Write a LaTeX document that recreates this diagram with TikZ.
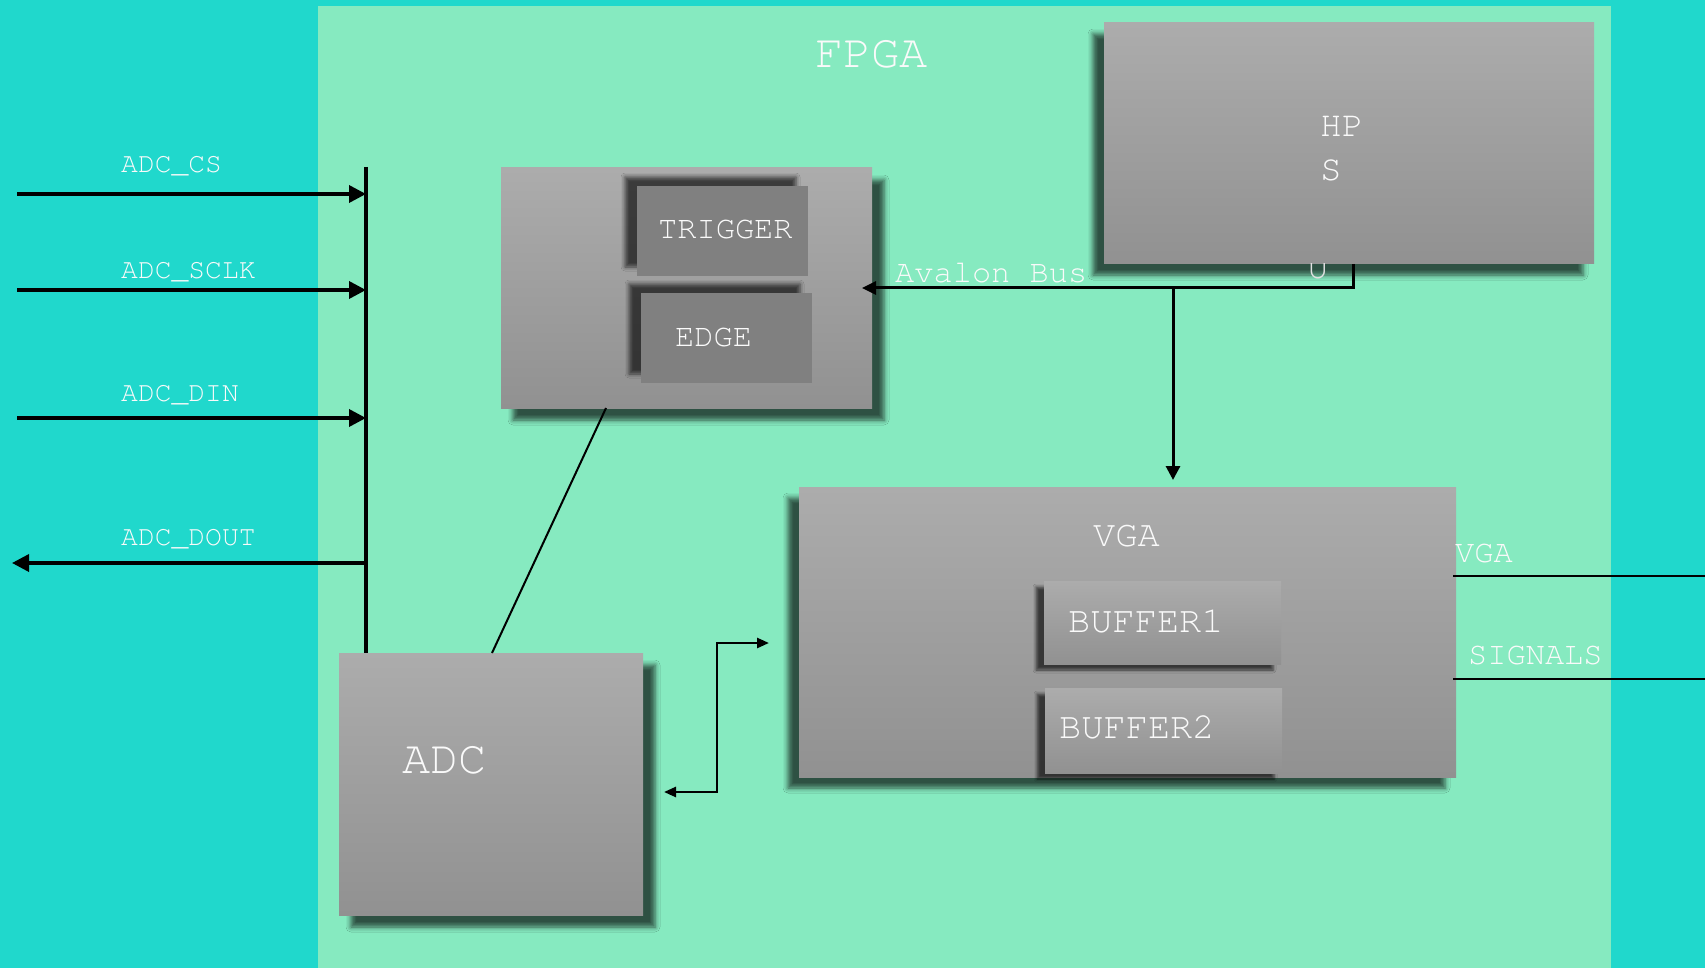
\documentclass[tikz,border=0pt]{standalone}
\usepackage{fontspec}
\setmonofont{TeX Gyre Cursor}
\usetikzlibrary{shadows.blur,arrows.meta}
\definecolor{cyanbg}{RGB}{32,216,204}
\definecolor{fpgagreen}{RGB}{134,234,192}
\definecolor{boxtop}{RGB}{172,172,172}
\definecolor{boxbot}{RGB}{145,145,145}
\definecolor{innergray}{RGB}{128,128,128}
\definecolor{txtc}{RGB}{250,250,250}
\newcommand{\myfs}[1]{\fontsize{#1}{#1}\selectfont}
\tikzset{
  blk/.style={inner sep=0pt, outer sep=0pt, draw=none, top color=boxtop, bottom color=boxbot, anchor=north west},
  inner/.style={inner sep=0pt, outer sep=0pt, draw=none, fill=innergray, anchor=north west},
  lbl/.style={text=txtc, font=\ttfamily, inner sep=0pt, anchor=base west},
  wire/.style={draw=black, line width=2.5pt},
  sig/.style={draw=black, line width=3.5pt},
  shBR/.style={blur shadow={shadow xshift=12pt, shadow yshift=-12pt, shadow blur radius=5pt, shadow opacity=65}},
  shBL/.style={blur shadow={shadow xshift=-11pt, shadow yshift=-11pt, shadow blur radius=5pt, shadow opacity=65}},
  shTL/.style={blur shadow={shadow xshift=-12pt, shadow yshift=9pt, shadow blur radius=4pt, shadow opacity=65}},
  shSm/.style={blur shadow={shadow xshift=-8pt, shadow yshift=-6pt, shadow blur radius=3pt, shadow opacity=65}},
}
\begin{document}
\begin{tikzpicture}[x=1pt,y=-1pt]
\useasboundingbox (0,0) rectangle (1705,968);
\fill[cyanbg] (0,0) rectangle (1705,968);
\node[inner sep=0pt, outer sep=0pt, fill=fpgagreen, minimum width=1293pt, minimum height=962pt, anchor=north west] (fpga) at (318,6) {};
\node[lbl, font=\ttfamily\myfs{47}] (fpgat) at (815,68) {FPGA};

% HPS
\node[blk, shBL, minimum width=490pt, minimum height=241pt] (hps) at (1104,23) {};
\begin{scope}
\clip (1290,264) rectangle (1340,300);
\node[lbl, font=\ttfamily\myfs{36}, text={rgb,255:red,225;green,225;blue,225}] (hpsu) at (1307,279) {U};
\end{scope}
\node[lbl, font=\ttfamily\myfs{36}] (hpst1) at (1320,137) {HP};
\node[lbl, font=\ttfamily\myfs{36}] (hpst2) at (1320,181) {S};

% control box
\node[blk, shBR, minimum width=371pt, minimum height=240pt] (ctrl) at (501,168) {};
\node[inner, shTL, minimum width=171pt, minimum height=90pt] (trig) at (637,186) {};
\node[lbl, font=\ttfamily\myfs{32}] (trigt) at (658,239) {TRIGGER};
\node[inner, shTL, minimum width=171pt, minimum height=90pt] (edge) at (641,293) {};
\node[lbl, font=\ttfamily\myfs{32}] (edget) at (675,346) {EDGE};

% ADC
\node[blk, shBR, minimum width=304pt, minimum height=262pt] (adc) at (339,653) {};
\node[lbl, font=\ttfamily\myfs{47}] (adct) at (402,773) {ADC};

% VGA
\node[blk, shBL, minimum width=657pt, minimum height=290pt] (vga) at (799,487) {};
\node[lbl, font=\ttfamily\myfs{37}] (vgat) at (1093,546) {VGA};
\node[blk, shSm, minimum width=237pt, minimum height=83pt] (buf1) at (1044,581) {};
\node[lbl, font=\ttfamily\myfs{37}] (buf1t) at (1068,632) {BUFFER1};
\node[blk, shSm, minimum width=237pt, minimum height=85pt] (buf2) at (1045,688) {};
\node[lbl, font=\ttfamily\myfs{37}] (buf2t) at (1059,738) {BUFFER2};

% ADC signal lines
\coordinate (bustop) at (366,167);
\draw[sig] (bustop) -- (adc.north -| bustop);
\coordinate (csL) at (17,194);
\coordinate (sclkL) at (17,290);
\coordinate (dinL) at (17,418);
\coordinate (doutR) at (366,563);
\coordinate (doutL) at (12,563);
\draw[sig, -{Triangle[length=17pt,width=17pt]}] (csL) -- (csL -| bustop);
\draw[sig, -{Triangle[length=17pt,width=17pt]}] (sclkL) -- (sclkL -| bustop);
\draw[sig, -{Triangle[length=17pt,width=17pt]}] (dinL) -- (dinL -| bustop);
\draw[sig, -{Triangle[length=17pt,width=17pt]}] (doutR) -- (doutL);
\node[lbl, font=\ttfamily\myfs{28}] (cst) at (121,173) {ADC\_CS};
\node[lbl, font=\ttfamily\myfs{28}] (sclkt) at (121,279) {ADC\_SCLK};
\node[lbl, font=\ttfamily\myfs{28}] (dint) at (121,401) {ADC\_DIN};
\node[lbl, font=\ttfamily\myfs{28}] (doutt) at (121,545) {ADC\_DOUT};

% ctrl to ADC
\draw[wire, line width=2pt] ([xshift=105pt]ctrl.south west) -- ([xshift=153pt]adc.north west);

% Avalon bus
\coordinate (hpsout) at (1353,264);
\coordinate (jn) at (1173,288);
\draw[wire, line width=3pt] (hpsout) |- (jn);
\draw[wire, line width=3pt, -{Triangle[length=14pt,width=13pt]}] (jn) -- ([xshift=-10pt]ctrl.east |- jn);
\draw[wire, line width=3pt, -{Triangle[length=14pt,width=14pt]}] (jn) -- ([yshift=7pt]vga.north -| jn);
\node[lbl, font=\ttfamily\myfs{32}] (avt) at (895,283) {Avalon Bus};

% ADC <-> VGA
\coordinate (adcv) at (664,792);
\coordinate (vgav) at (769,643);
\draw[wire, {Triangle[length=12pt,width=10pt]}-{Triangle[length=12pt,width=10pt]}] (adcv) -- (717,792) -- (717,643) -- (vgav);

% VGA signals out
\coordinate (v1) at (1453,576);
\coordinate (v2) at (1453,679);
\draw[wire] (v1) -- (1705,576);
\draw[wire] (v2) -- (1705,679);
\node[lbl, font=\ttfamily\myfs{32}] (vsig1) at (1455,562) {VGA};
\node[lbl, font=\ttfamily\myfs{32}] (vsig2) at (1468,664) {SIGNALS};
\end{tikzpicture}
\end{document}
